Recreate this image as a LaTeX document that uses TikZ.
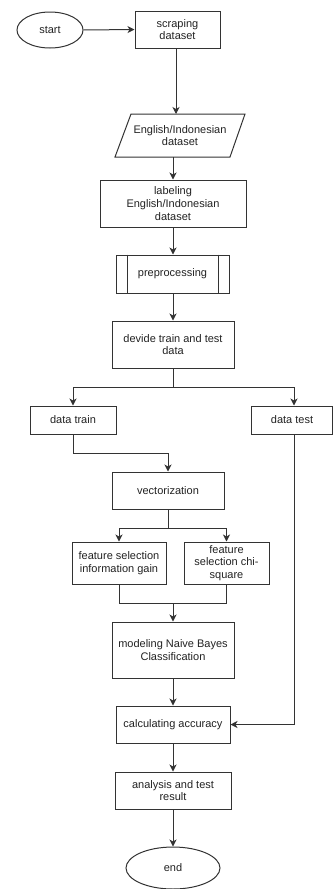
\documentclass[tikz,border=0pt]{standalone}
\usepackage{fontspec}
\setmainfont{Liberation Sans}
\usetikzlibrary{arrows.meta,shapes.geometric}
\definecolor{ln}{HTML}{333333}
\definecolor{tx}{HTML}{222222}
\tikzset{
  box/.style={draw=ln, line width=1pt, rectangle, inner sep=0pt, align=center, text=tx, font=\fontsize{11}{12.7}\selectfont},
  oval/.style={draw=ln, line width=1pt, ellipse, inner sep=0pt, align=center, text=tx, font=\fontsize{11}{12.7}\selectfont},
  txt/.style={inner sep=0pt, align=center, text=tx, font=\fontsize{11}{12.7}\selectfont},
  conn/.style={draw=ln, line width=1pt},
  arr/.style={conn, -{Stealth[length=7pt,width=7pt,inset=2pt]}}
}
\begin{document}
\begin{tikzpicture}[x=1pt,y=-1pt]
\useasboundingbox (0,0) rectangle (333,889);
\node[oval, minimum width=66, minimum height=36] (start) at (50,30) {start};
\node[box, minimum width=85, minimum height=37] (scrap) at (177.5,29.5) {scraping\\dataset};
\node[txt, minimum width=115, minimum height=43] (eng) at (180,135.5) {English/Indonesian\\dataset};
\draw[ln, line width=1pt] (131,114) -- (245,114) -- (230,157) -- (115,157) -- cycle;
\node[box, minimum width=146, minimum height=47] (lab) at (173,203.5) {labeling\\English/Indonesian\\dataset};
\node[box, minimum width=113, minimum height=38] (pre) at (172.5,274) {preprocessing};
\draw[conn] ([xshift=12]pre.north west) -- ([xshift=12]pre.south west);
\draw[conn] ([xshift=-11]pre.north east) -- ([xshift=-11]pre.south east);
\node[box, minimum width=122, minimum height=47] (dev) at (173,344.5) {devide train and test\\data};
\node[box, minimum width=86, minimum height=28] (train) at (73,420) {data train};
\node[box, minimum width=81, minimum height=28] (test) at (292,420) {data test};
\node[box, minimum width=112, minimum height=37] (vec) at (168,490.5) {vectorization};
\node[box, minimum width=94, minimum height=42] (fs1) at (119,563) {feature selection\\information gain};
\node[box, minimum width=85, minimum height=42] (fs2) at (226.5,563) {feature\\selection chi-\\square};
\node[box, minimum width=122, minimum height=56] (model) at (173,650) {modeling Naive Bayes\\Classification};
\node[box, minimum width=114, minimum height=37] (calc) at (173,724.5) {calculating accuracy};
\node[box, minimum width=116, minimum height=37] (ana) at (173,790.5) {analysis and test\\result};
\node[oval, minimum width=94, minimum height=42] (end) at (173,868) {end};
% connectors
\draw[arr] (start.east) -- (scrap.west);
\draw[arr] ([xshift=-1.5]scrap.south) -- ([xshift=-1.5]scrap.south |- 0,114);
\draw[arr] (lab.north |- eng.south) -- (lab.north);
\draw[arr] (lab.north |- lab.south) -- (lab.north |- pre.north);
\draw[arr] (dev.north |- pre.south) -- (dev.north);
\draw[arr] (dev.south) -- ++(0,19) -| (train.north);
\draw[arr] (dev.south) -- ++(0,19) -| ([xshift=2]test.north);
\draw[arr] (train.south) -- ++(0,19) -| (vec.north);
\draw[arr] (vec.south) -- ++(0,19) -| (fs1.north);
\draw[arr] (vec.south) -- ++(0,19) -| (fs2.north);
\draw[conn] (fs1.south) -- ++(0,19) -| (fs2.south);
\draw[arr] (model.north |- 0,603) -- (model.north);
\draw[arr] (model.south) -- (calc.north);
\draw[arr] ([xshift=2]test.south) |- (calc.east);
\draw[arr] (calc.south) -- (ana.north);
\draw[arr] (ana.south) -- (end.north);
\end{tikzpicture}
\end{document}
